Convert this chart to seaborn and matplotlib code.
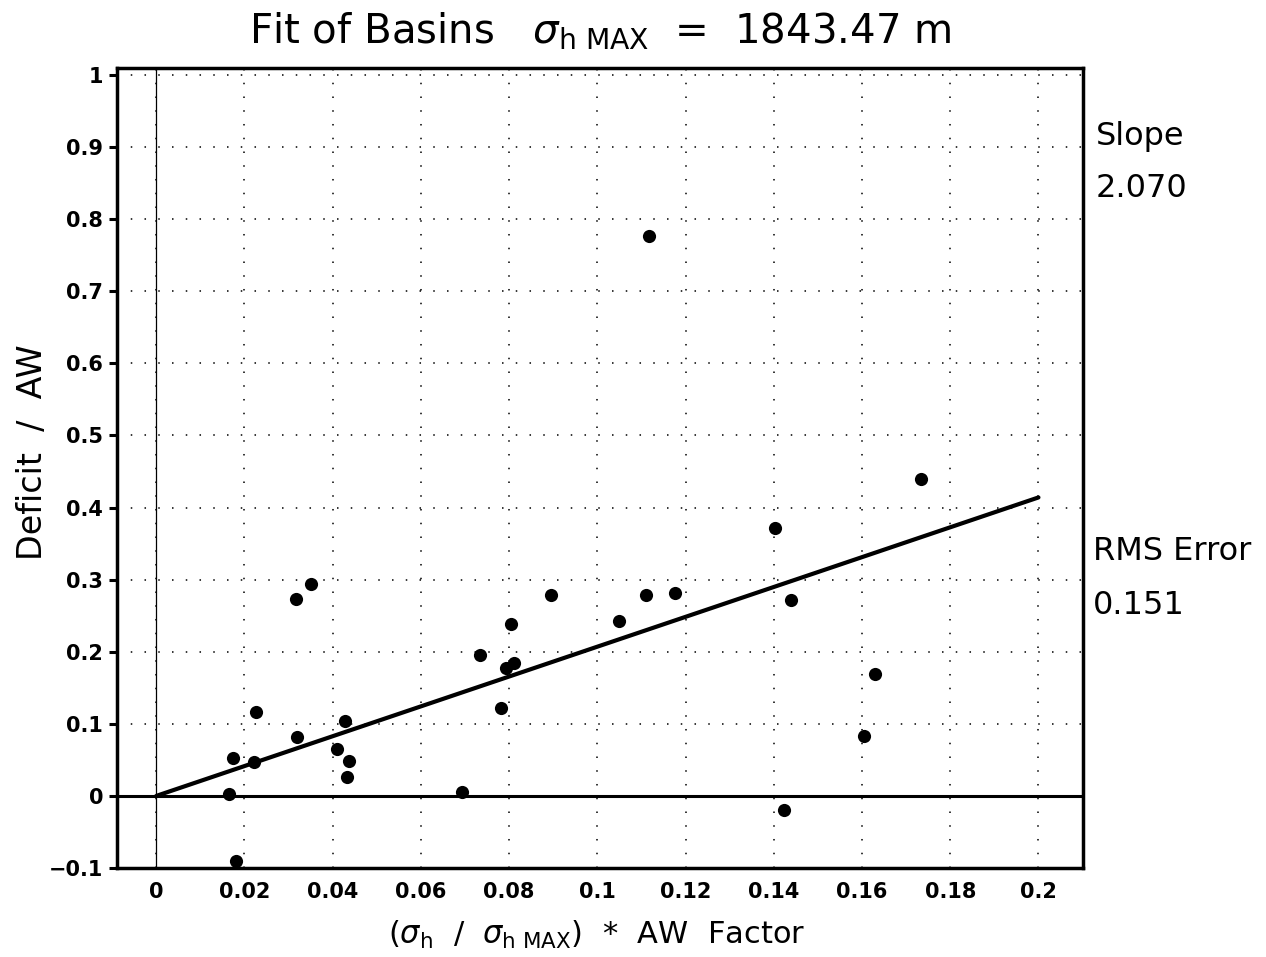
import numpy as np
import pandas as pd
import matplotlib
matplotlib.use('Agg')
import matplotlib.pyplot as plt
import seaborn as sns

# basin points
ratio = [0.0164, 0.0174, 0.0181, 0.0222, 0.0227, 0.0316, 0.0320, 0.0351, 0.0409, 0.0427,
         0.0432, 0.0436, 0.0693, 0.0735, 0.0782, 0.0793, 0.0804, 0.0811, 0.0895, 0.1050,
         0.1110, 0.1118, 0.1177, 0.1402, 0.1423, 0.1440, 0.1604, 0.1630, 0.1734]
deficit = [0.0025, 0.052, -0.090, 0.0475, 0.116, 0.273, 0.082, 0.294, 0.0646, 0.104,
           0.0257, 0.049, 0.005, 0.1956, 0.1225, 0.177, 0.238, 0.184, 0.279, 0.243,
           0.279, 0.777, 0.282, 0.372, -0.0198, 0.2715, 0.0825, 0.169, 0.440]
slope = 2.070
rms_error = 0.151
sigma_max = 1843.47
fit_x = [0.0, 0.2]

xticks = [0, 0.02, 0.04, 0.06, 0.08, 0.1, 0.12, 0.14, 0.16, 0.18, 0.2]
yticks = [-0.1, 0, 0.1, 0.2, 0.3, 0.4, 0.5, 0.6, 0.7, 0.8, 0.9, 1]

data = pd.DataFrame({'ratio': ratio, 'deficit': deficit})
fit = pd.DataFrame({'x': fit_x, 'y': [slope * v for v in fit_x]})

sns.set_style('white')
plt.rcParams['font.family'] = ['DejaVu Sans']
plt.rcParams['mathtext.fontset'] = 'dejavusans'
plt.rcParams['text.color'] = 'black'

fig = plt.figure(figsize=(12.66, 9.57), dpi=100)
ax = fig.add_axes([117/1266, 1-868/957, (1083-117)/1266, (868-68)/957])

ax.axhline(0, color='black', lw=2.2, zorder=2)
ax.axvline(0, color='black', lw=0.9, zorder=2)
sns.lineplot(data=fit, x='x', y='y', color='black', lw=3, ax=ax, zorder=3)
sns.scatterplot(data=data, x='ratio', y='deficit', color='black', s=90,
                edgecolor='black', linewidth=0, ax=ax, zorder=4)

ax.set_xlim(-0.0089, 0.2101)
ax.set_ylim(-0.098, 1.0097)
ax.set_xticks(xticks)
ax.set_yticks(yticks)
ax.set_xticklabels(['%g' % t for t in xticks], fontsize=15, fontweight='bold')
ax.set_yticklabels([('%g' % t).replace('-', '\u2212') for t in yticks], fontsize=15, fontweight='bold')
ax.tick_params(axis='y', direction='out', length=6, width=2.2, color='black', pad=4,
               left=True, labelcolor='black')
ax.tick_params(axis='x', length=0, pad=10, labelcolor='black')

ax.grid(True, color='black', lw=1.1, linestyle=(0, (1, 8)))
for s in ax.spines.values():
    s.set_linewidth(2.5)
    s.set_color('black')

ax.set_xlabel('')
ax.set_ylabel('')

fig.text(0.474, 0.967, r'Fit of Basins   $\sigma_{\rm h\ MAX}$  =  %.2f m' % sigma_max,
         ha='center', va='center', fontsize=29)
fig.text(0.026, 1-452/957, 'Deficit  /  AW', rotation=90, ha='center', va='center', fontsize=24)
fig.text(0.471, 1-935/957, r'($\sigma_{\rm h}$  /  $\sigma_{\rm h\ MAX}$)  *  AW  Factor',
         ha='center', va='center', fontsize=22)

fig.text(1096/1266, 1-137/957, 'Slope', ha='left', va='center', fontsize=23)
fig.text(1096/1266, 1-188/957, '%.3f' % slope, ha='left', va='center', fontsize=23)
fig.text(1093/1266, 1-552/957, 'RMS Error', ha='left', va='center', fontsize=23)
fig.text(1093/1266, 1-605/957, '%.3f' % rms_error, ha='left', va='center', fontsize=23)

fig.savefig('out.png', dpi=100)
